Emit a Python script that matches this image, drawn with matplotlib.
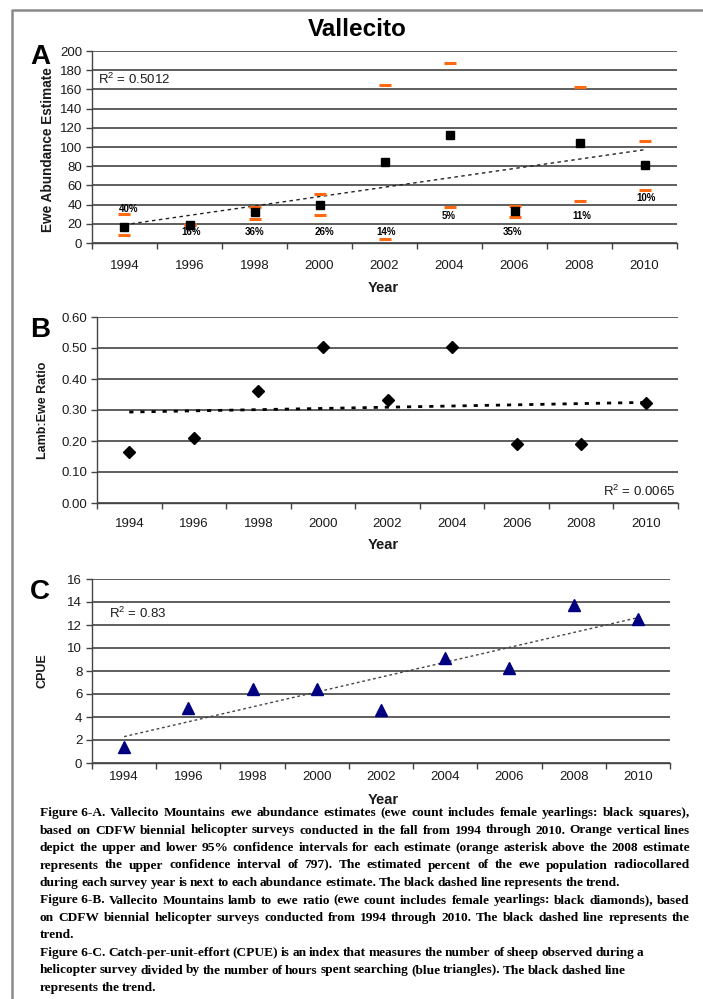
import numpy as np
import matplotlib
matplotlib.use('Agg')
import matplotlib.pyplot as plt
from matplotlib.lines import Line2D
from matplotlib.ticker import FormatStrFormatter

plt.rcParams['font.family'] = ['Liberation Sans', 'DejaVu Sans']
plt.rcParams['mathtext.default'] = 'regular'

# ---------------- data ----------------
years = ['1994', '1996', '1998', '2000', '2002', '2004', '2006', '2008', '2010']
ewe_est = [17, 19, 32, 40, 84, 113, 33, 104, 81]
ci_lower = [8, 19, 25, 29, 4, 38, 27, 44, 55]
ci_upper = [30, 20, 38, 51, 165, 188, 39, 162, 106]
pct_collared = ['40%', '16%', '36%', '26%', '14%', '5%', '35%', '11%', '10%']
lamb_ewe = [0.165, 0.211, 0.362, 0.502, 0.333, 0.502, 0.191, 0.191, 0.324]
cpue = [1.4, 4.8, 6.4, 6.4, 4.6, 9.1, 8.3, 13.7, 12.5]

# layout for percent labels (value-axis positions)
pct_label_y = [35, 11, 11, 11, 11, 28.6, 11, 28.6, 47]
pct_label_dx = [0.07, 0.02, 0.0, 0.07, 0.02, -0.02, -0.03, 0.03, 0.02]

caption = [
    ("Figure 6-A.", "Vallecito Mountains ewe abundance estimates (ewe count includes female yearlings: black squares),", True),
    ("", "based on CDFW biennial helicopter surveys conducted in the fall from 1994 through 2010. Orange vertical lines", True),
    ("", "depict the upper and lower 95% confidence intervals for each estimate (orange asterisk above the 2008 estimate", True),
    ("", "represents the upper confidence interval of 797). The estimated percent of the ewe population radiocollared", True),
    ("", "during each survey year is next to each abundance estimate. The black dashed line represents the trend.", False),
    ("Figure 6-B.", "Vallecito Mountains lamb to ewe ratio (ewe count includes female yearlings: black diamonds), based", True),
    ("", "on CDFW biennial helicopter surveys conducted from 1994 through 2010. The black dashed line represents the", True),
    ("", "trend.", False),
    ("Figure 6-C.", "Catch-per-unit-effort (CPUE) is an index that measures the number of sheep observed during a", False),
    ("", "helicopter survey divided by the number of hours spent searching (blue triangles). The black dashed line", False),
    ("", "represents the trend.", False),
]

W, H = 703, 999
fig = plt.figure(figsize=(W / 100, H / 100), dpi=100)


def rect(l, t, r, b):
    return [l / W, 1 - b / H, (r - l) / W, (b - t) / H]


def fx(x):
    return x / W


def fy(y):
    return 1 - y / H


GRID = '#333333'
TXT = '#1a1a1a'


def style(ax, ymax, ystep, fmt, pad):
    n = len(years)
    ax.set_xlim(-0.5, n - 0.5)
    ax.set_ylim(0, ymax)
    ax.set_yticks(np.arange(0, ymax + ystep / 2, ystep))
    ax.yaxis.set_major_formatter(FormatStrFormatter(fmt))
    ax.set_xticks(np.arange(-0.5, n, 1.0))
    ax.set_xticks(np.arange(n), minor=True)
    ax.set_xticklabels(years, minor=True)
    ax.tick_params(axis='x', which='major', length=4, width=1, color='#444',
                   labelbottom=False, direction='out')
    ax.tick_params(axis='x', which='minor', length=0, pad=pad,
                   labelsize=9.5, labelcolor=TXT)
    ax.tick_params(axis='y', length=4, width=1, color='#444', labelsize=9.5,
                   labelcolor=TXT, pad=3)
    ax.grid(axis='y', color=GRID, lw=1.1)
    ax.grid(axis='x', visible=False)
    ax.set_axisbelow(True)
    for s in ['top', 'right']:
        ax.spines[s].set_visible(False)
    for s in ['left', 'bottom']:
        ax.spines[s].set_color('#444')
        ax.spines[s].set_linewidth(1.0)


xi = np.arange(len(years))

# ---------------- Panel A ----------------
axA = fig.add_axes(rect(92, 51, 677, 243))
style(axA, 200, 20, '%d', 12)
cA = np.polyfit(xi, ewe_est, 1)
axA.plot(xi, np.polyval(cA, xi), color='#222', lw=1.0, ls=(0, (2.5, 2.5)), zorder=2)
axA.plot(xi, ci_lower, ls='none', marker='_', ms=9, mew=2.2, color='#FF6A10', zorder=3, clip_on=False)
axA.plot(xi, ci_upper, ls='none', marker='_', ms=9, mew=2.2, color='#FF6A10', zorder=3, clip_on=False)
axA.plot(xi, ewe_est, ls='none', marker='s', ms=5.5, color='black', zorder=4)
for i, p in enumerate(pct_collared):
    axA.text(xi[i] + pct_label_dx[i], pct_label_y[i], p, ha='center', va='center',
             fontsize=7, fontweight='bold', color='black', zorder=5)
axA.text(0.01, 0.852, 'R$^{2}$ = 0.5012', transform=axA.transAxes, fontsize=9.5,
         color=TXT, ha='left', va='center')

# ---------------- Panel B ----------------
axB = fig.add_axes(rect(97, 317, 678, 503))
style(axB, 0.6, 0.1, '%.2f', 11)
cB = np.polyfit(xi, lamb_ewe, 1)
axB.plot(xi, np.polyval(cB, xi), color='black', lw=2.0, ls=(0, (1.5, 2.5)), zorder=2)
axB.plot(xi, lamb_ewe, ls='none', marker='D', ms=6.5, color='black', zorder=4)
axB.text(0.995, 0.06, 'R$^{2}$ = 0.0065', transform=axB.transAxes, fontsize=9.5,
         color=TXT, ha='right', va='center')

# ---------------- Panel C ----------------
axC = fig.add_axes(rect(92, 579, 670, 763))
style(axC, 16, 2, '%d', 6)
cC = np.polyfit(xi, cpue, 1)
axC.plot(xi, np.polyval(cC, xi), color='#444', lw=1.0, ls=(0, (2, 2)), zorder=2)
axC.plot(xi, cpue, ls='none', marker='^', ms=8.5, color='#000080', zorder=4)
axC.text(0.03, 0.815, 'R$^{2}$ = 0.83', transform=axC.transAxes, fontsize=9.5,
         color=TXT, ha='left', va='center')

# ---------------- labels ----------------
fig.text(fx(357), fy(30), 'Vallecito', ha='center', va='center', fontsize=17.5,
         fontweight='bold', color='black')
for letter, (x, y) in zip(['A', 'B', 'C'], [(40, 57), (40, 330), (40, 592)]):
    fig.text(fx(x), fy(y), letter, ha='center', va='center', fontsize=20,
             fontweight='bold', color='black')

fig.text(fx(48), fy(150), 'Ewe Abundance Estimate', rotation=90, ha='center',
         va='center', fontsize=9.8, fontweight='bold', color=TXT)
fig.text(fx(43), fy(410), 'Lamb:Ewe Ratio', rotation=90, ha='center',
         va='center', fontsize=9, fontweight='bold', color=TXT)
fig.text(fx(43), fy(671), 'CPUE', rotation=90, ha='center',
         va='center', fontsize=9, fontweight='bold', color=TXT)
for y in [288, 545, 800]:
    fig.text(fx(383), fy(y), 'Year', ha='center', va='center', fontsize=10.5,
             fontweight='bold', color=TXT)

# border frame
fig.add_artist(Line2D([fx(12), fx(12), fx(703)], [fy(999), fy(10), fy(10)],
                      color='#8a8a8a', lw=1.8, transform=fig.transFigure))

# ---------------- caption (justified) ----------------
renderer = fig.canvas.get_renderer()
CAP_FS = 9.6
cap_x0, cap_x1 = 40, 690
y0, dy = 813, 17.5
space_px = 2.6
for li, (prefix, rest, just) in enumerate(caption):
    words = []
    if prefix:
        words.append((prefix, 'bold'))
    words += [(w, 'bold') for w in rest.split()]
    objs = [fig.text(0, fy(y0 + li * dy), w, fontsize=CAP_FS, fontweight=wt,
                     family='Liberation Serif', color='black', va='center', ha='left')
            for w, wt in words]
    widths = [o.get_window_extent(renderer=renderer).width for o in objs]
    if just and len(objs) > 1:
        gap = (cap_x1 - cap_x0 - sum(widths)) / (len(objs) - 1)
    else:
        gap = space_px
    x = cap_x0
    for o, w in zip(objs, widths):
        o.set_x(fx(x))
        x += w + gap

fig.savefig('out.png', dpi=100)
